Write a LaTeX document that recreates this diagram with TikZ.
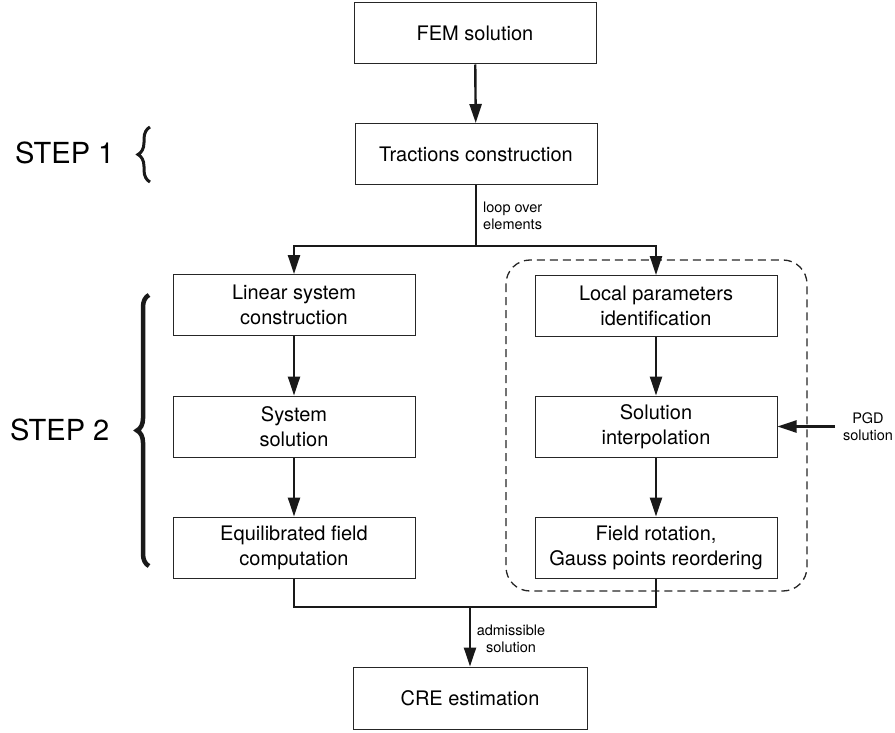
\documentclass[tikz,border=0pt]{standalone}
\usepackage{fontspec}
\setmainfont{TeX Gyre Heros}
\usetikzlibrary{arrows.meta,decorations.pathreplacing,calc}
\begin{document}
\begin{tikzpicture}[x=1pt,y=-1pt,
  box/.style={draw=black!85,line width=1pt,minimum width=242pt,minimum height=61pt,
    align=center,font=\fontsize{20}{25}\selectfont,inner sep=0pt},
  flow/.style={line width=2.4pt,draw=black!90,-{Triangle[length=19pt,width=12pt]}},
  trunk/.style={line width=2.4pt,draw=black!90},
  lbl/.style={font=\fontsize{14.5}{17}\selectfont,inner sep=0pt},
  steplbl/.style={font=\fontsize{29}{34}\selectfont,inner sep=0pt},
  bracestyle/.style={decorate,decoration={brace,amplitude=12pt},draw=black!90},
]
\useasboundingbox (0,0) rectangle (895,733);

% boxes
\node[box] (fem)  at (475,33.5)  {FEM solution};
\node[box] (trac) at (476,154)   {Tractions construction};
\node[box] (lin)  at (294,305)   {Linear system\\construction};
\node[box] (sys)  at (294,426.5) {System\\solution};
\node[box] (equ)  at (294,547.5) {Equilibrated field\\computation};
\node[box] (loc)  at (656,306)   {Local parameters\\identification};
\node[box] (sol)  at (656,426.5) {Solution\\interpolation};
\node[box] (fie)  at (656,547.5) {Field rotation,\\Gauss points reordering};
\node[box,minimum width=234pt,minimum height=62pt] (cre) at (470,698) {CRE estimation};

% dashed group
\draw[line width=1.3pt,draw=black!85,dash pattern=on 8pt off 5pt,rounded corners=24pt]
  (506,260) rectangle (807,591);

% connectors
\draw[flow] (fem) -- (trac);
\coordinate (split) at (476,246);
\draw[trunk] (trac.south) -- (split);
\draw[flow] (split) -| (lin.north);
\draw[flow] (split) -| (loc.north);
\draw[flow] (lin) -- (sys);
\draw[flow] (sys) -- (equ);
\draw[flow] (loc) -- (sol);
\draw[flow] (sol) -- (fie);
\coordinate (merge) at (470,607);
\draw[trunk] (equ.south) |- (merge) -| (fie.south);
\draw[flow] (merge) -- (cre);

% labels
\node[lbl,anchor=west,align=left] (loop) at (483,215.5) {loop over\\elements};
\node[lbl,align=center] (adm) at (511,638.5) {admissible\\solution};
\node[lbl,align=center] (pgd) at (868,426.5) {PGD\\solution};
\coordinate (pgdin) at (835,426.5);
\draw[flow] (pgdin) -- (sol.east);

% steps
\node[steplbl,anchor=west] (s1) at (15,153) {STEP 1};
\node[steplbl,anchor=west] (s2) at (10,430) {STEP 2};
\draw[bracestyle,line width=3pt] (150,182) -- (150,127);
\draw[bracestyle,line width=4.5pt] (149,566) -- (149,295);
\end{tikzpicture}
\end{document}
